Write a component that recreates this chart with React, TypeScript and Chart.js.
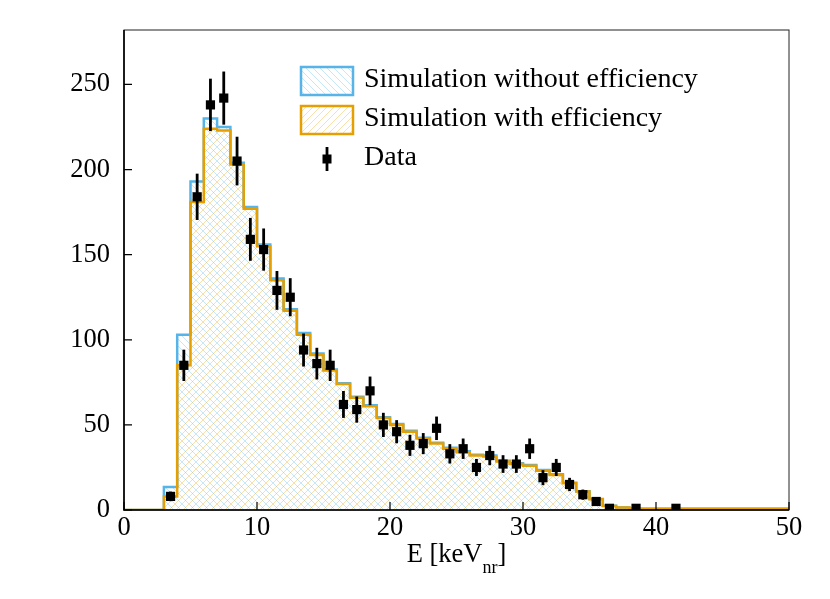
import { useEffect, useRef } from 'react';
import Chart from 'chart.js/auto';

// 1 keV bins from 0 to 50 keV_nr
const binWidth = 1;
const simNoEff = [
  0, 0, 0, 13.5, 103, 193, 230, 225, 204, 178,
  156, 136, 118, 104, 92, 82.5, 74.5, 66.5, 61.5, 54.5,
  50.5, 46.5, 42.5, 39.5, 36.5, 34.5, 32.5, 32, 29, 27.5,
  26.5, 23.5, 21, 16, 11, 6.5, 2.5, 1.5, 0.7, 0.7,
  0.7, 0.7, 0.7, 0.7, 0.7, 0.7, 0.7, 0.7, 0.7, 0.7,
];
const simEff = [
  0, 0, 0, 8, 85, 181, 224, 223, 203, 177,
  155, 135, 117, 103, 91, 82, 74, 66, 61, 54,
  50, 46, 42, 39, 36, 34, 32, 31.5, 28.5, 27,
  26, 23, 20.5, 15.7, 10.8, 6.3, 2.4, 1.4, 0.7, 0.7,
  0.7, 0.7, 0.7, 0.7, 0.7, 0.7, 0.7, 0.7, 0.7, 0.7,
];
const dataE = [
  3.5, 4.5, 5.5, 6.5, 7.5, 8.5, 9.5, 10.5, 11.5, 12.5,
  13.5, 14.5, 15.5, 16.5, 17.5, 18.5, 19.5, 20.5, 21.5, 22.5,
  23.5, 24.5, 25.5, 26.5, 27.5, 28.5, 29.5, 30.5, 31.5, 32.5,
  33.5, 34.5, 35.5, 36.5, 38.5, 41.5,
];
const dataCounts = [
  8, 85, 184, 238, 242, 205, 159, 153, 129, 125,
  94, 86, 85, 62, 59, 70, 50, 46, 38, 39,
  48, 33, 36, 25, 32, 27, 27, 36, 19, 25,
  15, 9, 5, 1, 1, 1,
];
const dataErr = [
  2.8, 9.2, 13.6, 15.4, 15.6, 14.3, 12.6, 12.4, 11.4, 11.2,
  9.7, 9.3, 9.2, 7.9, 7.7, 8.4, 7.1, 6.8, 6.2, 6.2,
  6.9, 5.7, 6, 5, 5.7, 5.2, 5.2, 6, 4.4, 5,
  3.9, 3, 2.2, 1, 1, 1,
];
const legendLabels = ['Simulation without efficiency', 'Simulation with efficiency', 'Data'];

const blue = '#56B4E9';
const orange = '#E69F00';
const serif = "'Liberation Serif', 'Times New Roman', serif";

function histPoints(values: number[]) {
  const pts = values.map((v, i) => ({ x: i * binWidth, y: v }));
  pts.push({ x: values.length * binWidth, y: values[values.length - 1] });
  return pts;
}

function makeHatch(color: string, rising: boolean) {
  const s = 7;
  const c = document.createElement('canvas');
  c.width = s;
  c.height = s;
  const g = c.getContext('2d')!;
  g.strokeStyle = color;
  g.lineWidth = 1;
  g.beginPath();
  for (const o of [-s, 0, s]) {
    if (rising) {
      g.moveTo(o, s);
      g.lineTo(o + s, 0);
    } else {
      g.moveTo(o, 0);
      g.lineTo(o + s, s);
    }
  }
  g.stroke();
  return g.createPattern(c, 'repeat')!;
}

export default function App() {
  const canvasRef = useRef<HTMLCanvasElement>(null);

  useEffect(() => {
    if (!canvasRef.current) return;
    const blueHatch = makeHatch('rgba(86,180,233,0.33)', false);
    const orangeHatch = makeHatch('rgba(230,159,0,0.32)', true);

    const decorations = {
      id: 'decorations',
      afterDatasetsDraw(chart: any) {
        const { ctx, chartArea, scales } = chart;
        const { left, right, top, bottom } = chartArea;
        const xs = scales.x;
        const ys = scales.y;
        ctx.save();

        // error bars on the data points
        ctx.strokeStyle = '#000';
        ctx.lineWidth = 2.8;
        dataE.forEach((e, i) => {
          const px = xs.getPixelForValue(e);
          ctx.beginPath();
          ctx.moveTo(px, ys.getPixelForValue(dataCounts[i] - dataErr[i]));
          ctx.lineTo(px, ys.getPixelForValue(dataCounts[i] + dataErr[i]));
          ctx.stroke();
        });

        // frame
        ctx.lineWidth = 1;
        ctx.strokeStyle = '#222';
        ctx.strokeRect(left, top, right - left, bottom - top);
        ctx.lineWidth = 1.6;
        ctx.strokeStyle = '#000';
        ctx.beginPath();
        ctx.moveTo(left, top);
        ctx.lineTo(left, bottom);
        ctx.lineTo(right, bottom);
        ctx.stroke();

        // inward ticks
        ctx.lineWidth = 1.2;
        ctx.beginPath();
        xs.ticks.forEach((t: any) => {
          const px = xs.getPixelForValue(t.value);
          ctx.moveTo(px, bottom);
          ctx.lineTo(px, bottom - 8);
        });
        ys.ticks.forEach((t: any) => {
          const py = ys.getPixelForValue(t.value);
          ctx.moveTo(left, py);
          ctx.lineTo(left + 8, py);
        });
        ctx.stroke();

        // axis title with subscript
        const main = '26.5px ' + serif;
        const sub = '18px ' + serif;
        ctx.fillStyle = '#000';
        ctx.textBaseline = 'alphabetic';
        ctx.textAlign = 'left';
        ctx.font = main;
        const w1 = ctx.measureText('E [keV').width;
        const w3 = ctx.measureText(']').width;
        ctx.font = sub;
        const w2 = ctx.measureText('nr').width;
        let tx = (left + right) / 2 - (w1 + w2 + w3) / 2;
        const ty = bottom + 52;
        ctx.font = main;
        ctx.fillText('E [keV', tx, ty);
        tx += w1;
        ctx.font = sub;
        ctx.fillText('nr', tx, ty + 11);
        tx += w2;
        ctx.font = main;
        ctx.fillText(']', tx, ty);

        // legend
        const bx = left + 177;
        const boxW = 52;
        const boxH = 28;
        const rows = [top + 51, top + 90, top + 129];
        const fills = [blueHatch, orangeHatch];
        const strokes = [blue, orange];
        for (let i = 0; i < 2; i++) {
          ctx.fillStyle = fills[i];
          ctx.fillRect(bx, rows[i] - boxH / 2, boxW, boxH);
          ctx.strokeStyle = strokes[i];
          ctx.lineWidth = 2.5;
          ctx.strokeRect(bx, rows[i] - boxH / 2, boxW, boxH);
        }
        const mx = bx + boxW / 2;
        ctx.fillStyle = '#000';
        ctx.fillRect(mx - 4.5, rows[2] - 4.5, 9, 9);
        ctx.strokeStyle = '#000';
        ctx.lineWidth = 2.8;
        ctx.beginPath();
        ctx.moveTo(mx, rows[2] - 12);
        ctx.lineTo(mx, rows[2] + 12);
        ctx.stroke();

        ctx.font = '28px ' + serif;
        ctx.textBaseline = 'middle';
        legendLabels.forEach((label, i) => {
          ctx.fillText(label, bx + 63, rows[i] - 1);
        });

        ctx.restore();
      },
    };

    const tickFont = { family: serif, size: 26.5 };

    const chart = new Chart(canvasRef.current, {
      data: {
        datasets: [
          {
            type: 'scatter',
            label: 'Data',
            data: dataE.map((e, i) => ({ x: e, y: dataCounts[i] })),
            pointStyle: 'rect',
            pointRadius: 6.5,
            backgroundColor: '#000',
            borderWidth: 0,
            order: 0,
          },
          {
            type: 'line',
            label: 'Simulation with efficiency',
            data: histPoints(simEff),
            stepped: true,
            borderColor: orange,
            borderWidth: 2.5,
            backgroundColor: orangeHatch,
            fill: 'origin',
            pointRadius: 0,
            order: 1,
          },
          {
            type: 'line',
            label: 'Simulation without efficiency',
            data: histPoints(simNoEff),
            stepped: true,
            borderColor: blue,
            borderWidth: 2.5,
            backgroundColor: blueHatch,
            fill: 'origin',
            pointRadius: 0,
            order: 2,
          },
        ],
      } as any,
      options: {
        animation: false,
        responsive: true,
        maintainAspectRatio: false,
        layout: { padding: { top: 30, right: 41, left: 0, bottom: 0 } },
        plugins: {
          legend: { display: false },
          tooltip: { enabled: false },
        },
        scales: {
          x: {
            type: 'linear',
            min: 0,
            max: 50,
            grid: { display: false },
            border: { display: false },
            ticks: { stepSize: 10, color: '#000', font: tickFont, padding: -6 },
            afterFit: (scale: any) => {
              scale.height = 89;
            },
          },
          y: {
            type: 'linear',
            min: 0,
            max: 282,
            grid: { display: false },
            border: { display: false },
            ticks: { stepSize: 50, color: '#000', font: tickFont, padding: 6 },
            afterBuildTicks: (scale: any) => {
              scale.ticks = scale.ticks.filter((t: any) => t.value % 50 === 0);
            },
            afterFit: (scale: any) => {
              scale.width = 124;
            },
          },
        },
      } as any,
      plugins: [decorations],
    });

    return () => {
      chart.destroy();
    };
  }, []);

  return (
    <div style={{ position: 'absolute', left: 0, top: 0, width: 830, height: 599, background: '#fff' }}>
      <canvas ref={canvasRef}></canvas>
    </div>
  );
}
